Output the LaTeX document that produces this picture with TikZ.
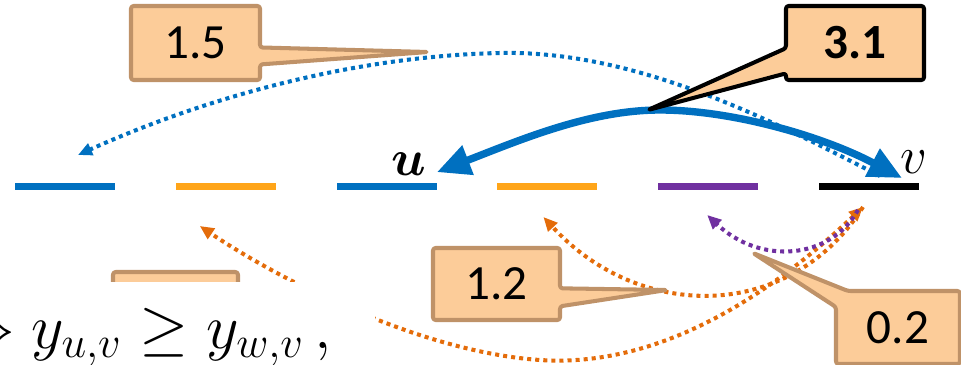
\RequirePackage{fix-cm}
\documentclass[tikz,border=0pt]{standalone}
\usepackage{amsmath}
\usepackage{fontspec}
\newfontfamily\calloutfont{Carlito}
\usetikzlibrary{arrows.meta,calc}

\definecolor{segblue}{RGB}{0,112,192}
\definecolor{segorange}{RGB}{255,165,25}
\definecolor{segpurple}{RGB}{112,48,160}
\definecolor{arcorange}{RGB}{228,108,10}
\definecolor{boxfill}{RGB}{252,204,153}
\definecolor{boxedge}{RGB}{191,146,104}

\tikzset{
  seg/.style={rectangle, inner sep=0, minimum width=2cm, minimum height=0.14cm},
  callout/.style={inner sep=0, font=\calloutfont\fontsize{28}{30}\selectfont},
  tanframe/.style={fill=boxfill, draw=boxedge, line width=2.3pt,
    rounded corners=1.5pt, line join=round},
  dots/.style={line width=2.3pt, dash pattern=on 2.3pt off 2.3pt},
  smalltip/.style={-{Triangle[length=8pt,width=7pt]}},
}

\begin{document}
\begin{tikzpicture}[x=0.02cm, y=-0.02cm]
  \useasboundingbox (0,0) rectangle (961,365);

  % the six segments
  \foreach \i/\c in {1/segblue,2/segorange,3/segblue,4/segorange,5/segpurple,6/black}
    \node[seg, fill=\c] (s\i) at ({65+160.8*(\i-1)},186) {};
  \node[inner sep=0, font=\fontsize{29}{30}\selectfont] (u) at (409,164) {$\boldsymbol{u}$};
  \node[inner sep=0, font=\fontsize{30}{30}\selectfont] (v) at (914,162) {$v$};

  % arrow ends
  \coordinate (uin) at ([shift={(0,-10)}]s3.north east);
  \coordinate (vin) at ([shift={(33,-8)}]s6.center);
  \coordinate (vtop) at ([shift={(11,-10)}]s6.center);
  \coordinate (vlow) at ([shift={(-6,21)}]s6.center);
  \coordinate (vlow2) at ([shift={(-11,24)}]s6.center);
  \coordinate (s1top) at ([shift={(13,-31)}]s1.center);
  \coordinate (s2low) at ([shift={(-26,40)}]s2.center);
  \coordinate (s4low) at ([shift={(-4,31)}]s4.center);
  \coordinate (s5low) at ([shift={(-1,29)}]s5.center);

  % dotted arcs
  \draw[segblue, dots, smalltip] (vtop) .. controls (780,125) and (640,50) ..
    (500,53) .. controls (350,56) and (200,100) .. (s1top);
  \draw[arcorange, dots, {Triangle[length=8pt,width=7pt]}-{Triangle[length=8pt,width=7pt]}]
    (vlow) .. controls (770,295) and (660,368) .. (540,360)
    .. controls (420,352) and (280,280) .. (s2low);
  \draw[arcorange, dots, smalltip] (vlow) .. controls (790,322) and (640,322) .. (s4low);
  \draw[segpurple, dots, smalltip] (vlow2) .. controls (830,260) and (760,265) .. (s5low);

  % thick arc between u and v
  \draw[segblue, line width=4.2pt,
    {Triangle[length=19pt,width=17pt]}-{Triangle[length=19pt,width=17pt]}]
    (uin) .. controls (520,140) and (590,110) .. (660,110)
    .. controls (730,110) and (820,135) .. (vin);

  % box under the formula strip
  \node[tanframe, minimum width=2.5cm, minimum height=1.36cm] (cbl) at (175.5,306) {};
  \fill[white] (0,282) rectangle (375,365);
  \node[anchor=base east, inner sep=0, font=\fontsize{36}{43}\selectfont] (eq) at (332,348)
    {$\Leftrightarrow y_{u,v} \geq y_{w,v}\,,$};

  % callouts
  \coordinate (p15) at (428,52);
  \coordinate (p31) at (648,110);
  \coordinate (p12) at (667,290);
  \coordinate (p02) at (753,253);

  \draw[tanframe] (195.5,43) node[callout, minimum width=2.5cm, minimum height=1.4cm] (c15) {1.5}
    (c15.north west) -- (c15.north east) -- ($(c15.north east)!0.56!(c15.south east)$)
    -- (p15) -- ($(c15.north east)!0.79!(c15.south east)$) -- (c15.south east)
    -- (c15.south west) -- cycle;

  \draw[tanframe, draw=black] (855,43) node[callout, font=\calloutfont\bfseries\fontsize{28}{30}\selectfont,
      minimum width=2.68cm, minimum height=1.4cm] (c31) {3.1}
    (c31.north west) -- (c31.north east) -- (c31.south east) -- (c31.south west)
    -- ($(c31.north west)!0.91!(c31.south west)$) -- (p31)
    -- ($(c31.north west)!0.57!(c31.south west)$) -- cycle;

  \draw[tanframe] (496.5,284) node[callout, minimum width=2.46cm, minimum height=1.36cm] (c12) {1.2}
    (c12.north west) -- (c12.north east) -- ($(c12.north east)!0.56!(c12.south east)$)
    -- (p12) -- ($(c12.north east)!0.81!(c12.south east)$) -- (c12.south east)
    -- (c12.south west) -- cycle;

  \draw[tanframe] (898,327.5) node[callout, minimum width=2.4cm, minimum height=1.38cm] (c02) {0.2}
    (c02.north east) -- ($(c02.north west)+(12,0)$) -- (p02)
    -- ($(c02.north west)!0.22!(c02.south west)$) -- (c02.south west)
    -- (c02.south east) -- cycle;
\end{tikzpicture}
\end{document}
